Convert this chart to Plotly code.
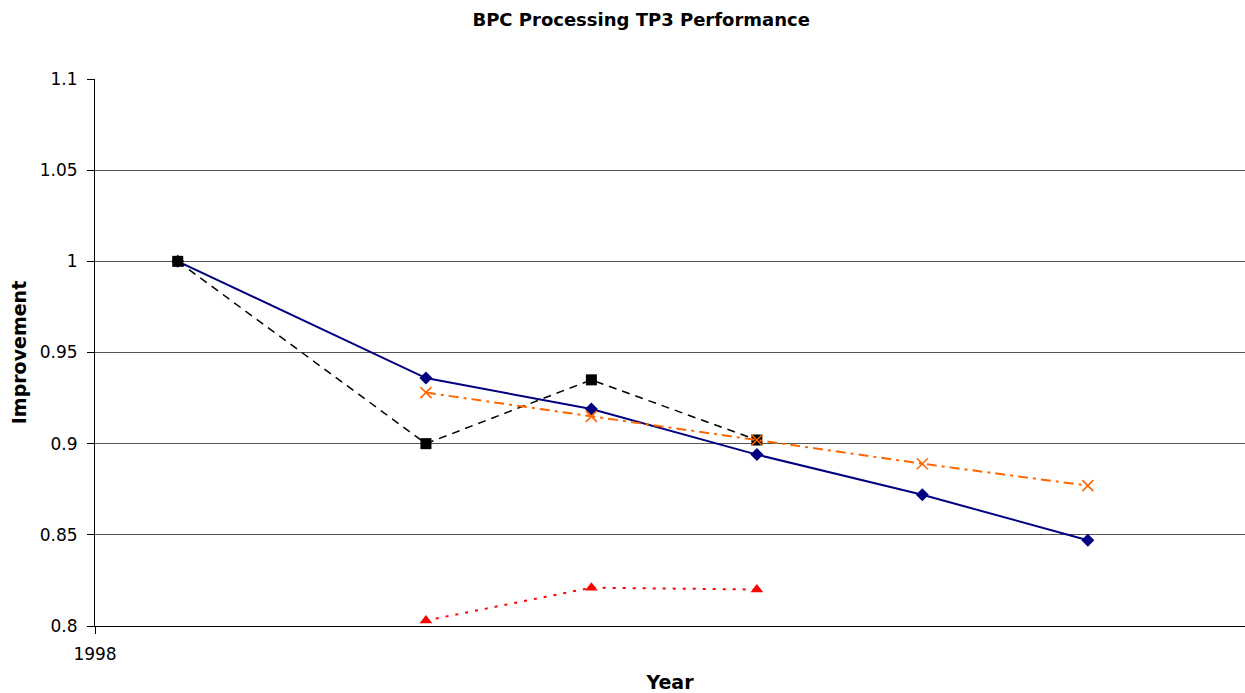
import plotly.graph_objects as go

x_pos = [1998.5, 2000, 2001, 2002, 2003, 2004]
blue_vals = [1.0, 0.936, 0.919, 0.894, 0.872, 0.847]
black_vals = [1.0, 0.900, 0.935, 0.902]
orange_vals = [None, 0.928, 0.915, 0.902, 0.889, 0.877]
red_vals = [None, 0.803, 0.821, 0.820]

FONT = "Verdana, DejaVu Sans, sans-serif"

fig = go.Figure()
fig.add_trace(go.Scatter(x=x_pos, y=blue_vals, mode="lines+markers",
                         line=dict(color="#000080", width=2),
                         marker=dict(symbol="diamond", size=10, color="#000080"),
                         cliponaxis=False))
fig.add_trace(go.Scatter(x=x_pos[:len(black_vals)], y=black_vals, mode="lines+markers",
                         line=dict(color="black", width=1.5, dash="8px,6px"),
                         marker=dict(symbol="square", size=11, color="black"),
                         cliponaxis=False))
fig.add_trace(go.Scatter(x=x_pos, y=orange_vals, mode="lines+markers",
                         line=dict(color="#FF6600", width=2, dash="10px,5px,3px,5px"),
                         marker=dict(symbol="x-thin", size=11,
                                     line=dict(color="#FF6600", width=1.6)),
                         cliponaxis=False))
fig.add_trace(go.Scatter(x=x_pos[:len(red_vals)], y=red_vals, mode="lines+markers",
                         line=dict(color="#FF0000", width=2, dash="3px,7px"),
                         marker=dict(symbol="triangle-up", size=11, color="#FF0000"),
                         cliponaxis=False))

fig.update_layout(
    width=1245, height=693,
    margin=dict(l=95, r=0, t=79, b=67),
    paper_bgcolor="white", plot_bgcolor="white",
    showlegend=False,
    font=dict(family=FONT, color="black", size=17),
    title=dict(text="<b>BPC Processing TP3 Performance</b>", x=0.515, xref="container",
               xanchor="center", y=0.972, yref="container", yanchor="middle",
               font=dict(family=FONT, size=18, color="black")),
    xaxis=dict(range=[1998, 2004.95], tickvals=[1998], ticktext=["1998"],
               showgrid=False, zeroline=False, showline=True, linecolor="black",
               linewidth=1, ticks="outside", ticklen=7, tickcolor="black",
               ticklabelstandoff=6,
               tickfont=dict(family=FONT, size=17),
               title=dict(text="<b>Year</b>", standoff=16,
                          font=dict(family=FONT, size=19))),
    yaxis=dict(range=[0.8, 1.1], tickvals=[0.8, 0.85, 0.9, 0.95, 1.0, 1.05, 1.1],
               ticktext=["0.8", "0.85", "0.9", "0.95", "1", "1.05", "1.1"],
               showgrid=True, gridcolor="#555555", gridwidth=1, zeroline=False,
               showline=True, linecolor="black", linewidth=1,
               ticks="outside", ticklen=7, tickcolor="black",
               ticklabelstandoff=6,
               tickfont=dict(family=FONT, size=17),
               title=dict(text="<b>Improvement</b>", standoff=8,
                          font=dict(family=FONT, size=19))),
)

fig.write_html("out.html")
